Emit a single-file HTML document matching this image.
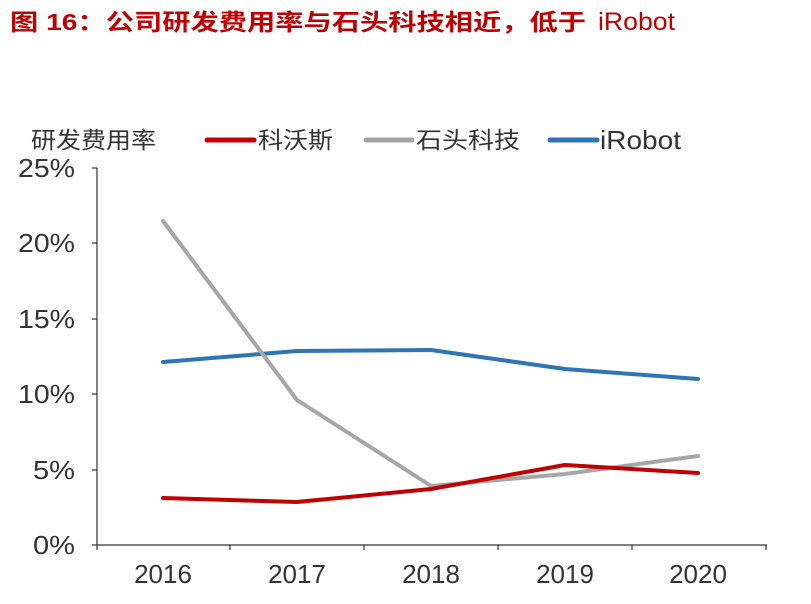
<!DOCTYPE html>
<html><head><meta charset="utf-8"><style>
body{margin:0;background:#fff;}
svg text{font-family:"Liberation Sans","Noto Sans CJK SC",sans-serif;}
</style></head><body>
<svg width="811" height="599" viewBox="0 0 811 599" xmlns="http://www.w3.org/2000/svg">
<text x="10" y="30" font-size="23" font-weight="bold" fill="#c00000" textLength="576" lengthAdjust="spacingAndGlyphs">图  16：公司研发费用率与石头科技相近，低于</text>
<text x="598" y="30" font-size="25" fill="#c00000" textLength="77" lengthAdjust="spacingAndGlyphs">iRobot</text>
<text x="31" y="148" font-size="23" fill="#333" textLength="125" lengthAdjust="spacingAndGlyphs">研发费用率</text>
<line x1="207" y1="140" x2="254" y2="140" stroke="#c00000" stroke-width="5" stroke-linecap="round"/>
<text x="258" y="148" font-size="23" fill="#333" textLength="75" lengthAdjust="spacingAndGlyphs">科沃斯</text>
<line x1="366" y1="140" x2="412" y2="140" stroke="#a6a6a6" stroke-width="5" stroke-linecap="round"/>
<text x="416" y="148" font-size="23" fill="#333" textLength="104" lengthAdjust="spacingAndGlyphs">石头科技</text>
<line x1="550" y1="140" x2="597" y2="140" stroke="#2e75b6" stroke-width="5" stroke-linecap="round"/>
<text x="600" y="149" font-size="26" fill="#333" textLength="81" lengthAdjust="spacingAndGlyphs">iRobot</text>
<g stroke="#333" stroke-width="1.2" fill="none">
<line x1="97" y1="168" x2="97" y2="545"/>
<line x1="97" y1="545" x2="767" y2="545"/>
<line x1="92" y1="168" x2="97" y2="168"/><line x1="92" y1="243" x2="97" y2="243"/><line x1="92" y1="319" x2="97" y2="319"/><line x1="92" y1="394" x2="97" y2="394"/><line x1="92" y1="470" x2="97" y2="470"/><line x1="92" y1="545" x2="97" y2="545"/>
<line x1="230" y1="545" x2="230" y2="550"/><line x1="364" y1="545" x2="364" y2="550"/><line x1="498" y1="545" x2="498" y2="550"/><line x1="632" y1="545" x2="632" y2="550"/><line x1="766" y1="545" x2="766" y2="550"/><line x1="97" y1="545" x2="97" y2="550"/>
</g>
<g font-size="26" fill="#333" text-anchor="end">
<text x="75" y="177" textLength="57" lengthAdjust="spacingAndGlyphs">25%</text>
<text x="75" y="252" textLength="57" lengthAdjust="spacingAndGlyphs">20%</text>
<text x="75" y="328" textLength="57" lengthAdjust="spacingAndGlyphs">15%</text>
<text x="75" y="403" textLength="57" lengthAdjust="spacingAndGlyphs">10%</text>
<text x="75" y="479" textLength="42" lengthAdjust="spacingAndGlyphs">5%</text>
<text x="75" y="554" textLength="42" lengthAdjust="spacingAndGlyphs">0%</text>
</g>
<g font-size="26" fill="#333" text-anchor="middle">
<text x="163" y="583">2016</text><text x="297" y="583">2017</text><text x="431" y="583">2018</text><text x="565" y="583">2019</text><text x="698" y="583">2020</text>
</g>
<g fill="none" stroke-width="4" stroke-linejoin="round" stroke-linecap="round">
<polyline stroke="#2e75b6" points="163,362 297,351 431,350 565,369 698,379"/>
<polyline stroke="#a6a6a6" points="163,221 297,400 431,486 565,474 698,456"/>
<polyline stroke="#c00000" points="163,498 297,502 431,489 565,465 698,473"/>
</g>
</svg>
</body></html>
